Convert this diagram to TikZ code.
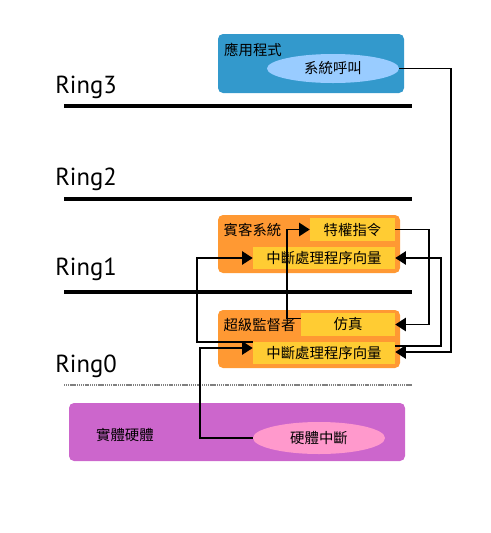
\documentclass[tikz,border=0pt]{standalone}
\usepackage{fontspec}
\setmainfont{PT Sans}
\newfontfamily\cjk{Noto Sans CJK TC}
\usetikzlibrary{shapes.geometric, arrows.meta, calc}

\newlength\px
\setlength\px{0.75pt}
\definecolor{appblue}{HTML}{3399CC}
\definecolor{callblue}{HTML}{99CCFF}
\definecolor{vmorange}{HTML}{FF9933}
\definecolor{tagyellow}{HTML}{FFCC33}
\definecolor{hwpurple}{HTML}{CC66CC}
\definecolor{irqpink}{HTML}{FF99CC}

\tikzset{
  layer/.style={rectangle, rounded corners=5\px, inner sep=0pt},
  tag/.style={rectangle, fill=tagyellow, inner sep=0pt, font=\cjk\fontsize{10.8}{12}\selectfont},
  oval/.style={ellipse, inner sep=0pt, font=\cjk\fontsize{10.8}{12}\selectfont},
  title/.style={inner sep=0pt, font=\cjk\fontsize{10.8}{12}\selectfont},
  ringname/.style={anchor=base west, inner sep=0pt, font=\fontsize{18.5}{22}\selectfont},
  ringline/.style={line width=3pt},
  conn/.style={line width=1.4pt, -{Triangle[length=8pt, width=10pt]}},
}

\begin{document}
\begin{tikzpicture}[x=0.75pt, y=-0.75pt]
  \useasboundingbox (0,0) rectangle (491,533);

  % rings
  \node [ringname] (r3) at (55,93) {Ring3};
  \node [ringname] (r2) at (55,185) {Ring2};
  \node [ringname] (r1) at (55,275) {Ring1};
  \node [ringname] (r0) at (55,372) {Ring0};
  \draw [ringline] (64,106) -- (412,106);
  \draw [ringline] (64,199) -- (412,199);
  \draw [ringline] (64,292) -- (412,292);
  \draw [gray, line width=1.5pt, dash pattern=on 0.9pt off 0.5pt] (64,385) -- (412,385);

  % ring 3
  \node [layer, fill=appblue, minimum width=186\px, minimum height=59\px] (app) at (311,63.5) {};
  \node [title] (applbl) at (253,50) {應用程式};
  \node [oval, fill=callblue, minimum width=132\px, minimum height=29\px] (syscall) at (333,68.5) {系統呼叫};

  % ring 1
  \node [layer, fill=vmorange, minimum width=182\px, minimum height=58\px] (guest) at (309,244) {};
  \node [title] (guestlbl) at (252.5,230) {賓客系統};
  \node [tag, minimum width=85\px, minimum height=23\px] (priv) at (352.5,229.5) {特權指令};
  \node [tag, minimum width=142\px, minimum height=22\px] (vec1) at (324,258) {中斷處理程序向量};

  % ring 0
  \node [layer, fill=vmorange, minimum width=182\px, minimum height=58\px] (hyp) at (309,339) {};
  \node [title] (hyplbl) at (259.5,325.5) {超級監督者};
  \node [tag, minimum width=94\px, minimum height=23\px] (emu) at (348,324.5) {仿真};
  \node [tag, minimum width=142\px, minimum height=22\px] (vec0) at (324,353) {中斷處理程序向量};

  % hardware
  \node [layer, fill=hwpurple, minimum width=336\px, minimum height=58\px] (hw) at (237,432) {};
  \node [title] (hwlbl) at (125,435) {實體硬體};
  \node [oval, fill=irqpink, minimum width=132\px, minimum height=32\px] (hwint) at (319,438) {硬體中斷};

  % connectors
  \draw [conn] (syscall.east) -| ($(vec0.east)+(56,-1)$) -- ([yshift=1\px]vec0.east);
  \draw [conn] ([yshift=7\px]vec0.east) -| ($(vec1.east)+(46,0)$) -- (vec1.east);
  \draw [conn] (priv.east) -| ($(emu.east)+(34,0)$) -- (emu.east);
  \draw [conn] ([yshift=6\px]emu.west) -| ($(priv.west)+(-23,0)$) -- (priv.west);
  \draw [conn] ([yshift=11\px]vec0.west) -| ($(vec1.west)+(-56,0)$) -- (vec1.west);
  \draw [conn] (hwint.west) -| ($(vec0.west)+(-53,-5)$) -- ([yshift=5\px]vec0.west);
\end{tikzpicture}
\end{document}
